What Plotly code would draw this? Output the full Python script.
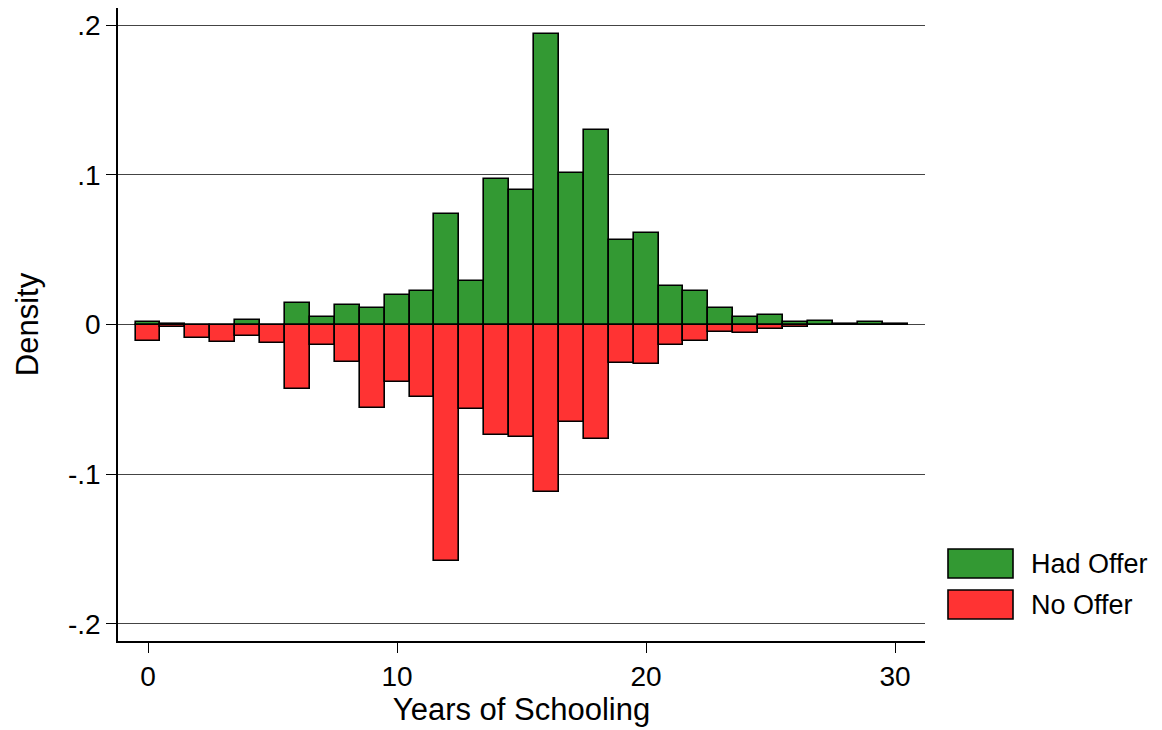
import plotly.graph_objects as go

years = list(range(0, 31))
had_offer = [0.002, 0.0005, 0.0, 0.0, 0.0033, 0.0, 0.0145, 0.0049, 0.0127, 0.0112,
             0.0194, 0.0227, 0.074, 0.0288, 0.0975, 0.0896, 0.1938, 0.101, 0.1298, 0.0562,
             0.0608, 0.0254, 0.0225, 0.0112, 0.0047, 0.0062, 0.002, 0.0022, 0.0003, 0.002, 0.0003]
no_offer = [-0.011, -0.002, -0.0089, -0.0116, -0.0078, -0.0125, -0.043, -0.0136, -0.0252, -0.0557,
            -0.0383, -0.0486, -0.158, -0.0564, -0.0736, -0.0754, -0.1117, -0.0649, -0.0763, -0.0254,
            -0.0266, -0.0136, -0.0111, -0.0047, -0.0058, -0.0031, -0.0018, -0.0005, -0.0003, -0.0003, -0.0003]

y_tickvals = [-0.2, -0.1, 0, 0.1, 0.2]
y_ticktext = ["-.2", "-.1", "0", ".1", ".2"]
x_tickvals = [0, 10, 20, 30]

GREEN = "#339933"
RED = "#ff3333"
FONT = "Liberation Sans, Arial, sans-serif"

fig = go.Figure()
fig.add_trace(go.Bar(x=years, y=had_offer, width=1, name="Had Offer",
                     marker=dict(color=GREEN, line=dict(color="black", width=1.6)),
                     showlegend=False))
fig.add_trace(go.Bar(x=years, y=no_offer, width=1, name="No Offer",
                     marker=dict(color=RED, line=dict(color="black", width=1.6)),
                     showlegend=False))

# legend swatches drawn in paper space to match the large boxes
L, R, T, B = 118, 925, 8, 641
W, H = 1162, 730
def px_x(p):
    return (p - L) / (R - L)
def px_y(p):
    return (B - p) / (B - T)

legend_items = [("Had Offer", GREEN, 549, 578), ("No Offer", RED, 590, 619)]
for label, col, y0, y1 in legend_items:
    fig.add_shape(type="rect", xref="paper", yref="paper",
                  x0=px_x(948), x1=px_x(1013), y0=px_y(y1), y1=px_y(y0),
                  fillcolor=col, line=dict(color="black", width=1.6))
    fig.add_annotation(xref="paper", yref="paper", x=px_x(1029), y=px_y((y0 + y1) / 2),
                       text=label, showarrow=False, xanchor="left", yanchor="middle",
                       font=dict(size=27, color="black", family=FONT))

fig.update_layout(
    width=W, height=H,
    barmode="overlay",
    bargap=0,
    plot_bgcolor="white", paper_bgcolor="white",
    margin=dict(l=L, r=W - R, t=T, b=H - B),
    font=dict(family=FONT, color="black", size=28),
)
fig.update_xaxes(range=[-1.205, 31.2], tickvals=x_tickvals, ticks="outside", ticklen=10,
                 tickcolor="black", tickwidth=1.2, showgrid=False, zeroline=False,
                 showline=True, linecolor="black", linewidth=1.5,
                 tickfont=dict(size=28),
                 title=dict(text="Years of Schooling", font=dict(size=31), standoff=5))
fig.update_yaxes(range=[-0.2114, 0.2114], tickvals=y_tickvals, ticktext=y_ticktext,
                 ticks="outside", ticklen=10, tickcolor="black", tickwidth=1.2,
                 showgrid=True, gridcolor="#444444", gridwidth=1, zeroline=False,
                 showline=True, linecolor="black", linewidth=1.5,
                 tickfont=dict(size=28),
                 title=dict(text="Density", font=dict(size=31), standoff=20))

fig.write_html("out.html")
